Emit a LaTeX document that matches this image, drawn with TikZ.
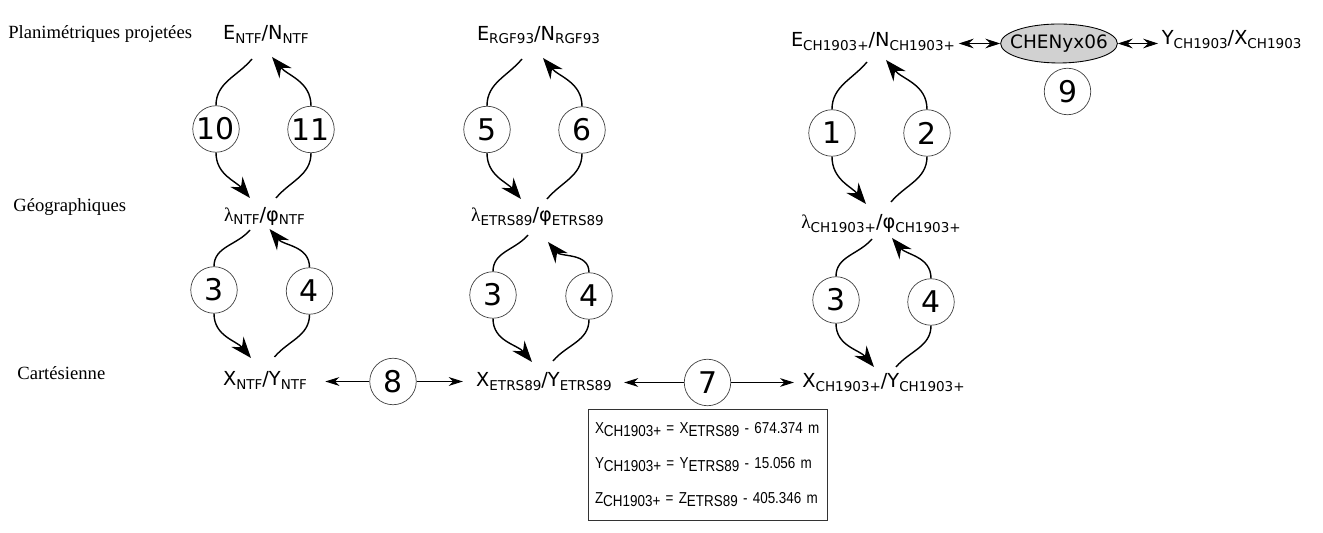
\documentclass[tikz,border=0pt]{standalone}
\usepackage{fontspec}
\setmainfont{DejaVu Sans}
\newfontfamily\sidefont{Liberation Serif}
\newfontfamily\boxfont[FakeStretch=0.85]{Liberation Sans}
\usetikzlibrary{arrows.meta,shapes.geometric}

\newcommand{\sbs}[1]{\raisebox{-1.8pt}{\fontsize{7.7}{8}\selectfont #1}}
\newcommand{\bsb}[1]{\raisebox{-1.6pt}{#1}}
\newcommand{\lam}{{\sidefont λ}}

\tikzset{
  sidelab/.style={anchor=base west,inner sep=0pt,
                  font=\sidefont\fontsize{10.6}{12}\selectfont},
  coord/.style={anchor=base,inner sep=2pt,
                font=\fontsize{11}{13}\selectfont},
  stepnum/.style={circle,draw=black!75,line width=0.4pt,
                  minimum size=0.93cm,inner sep=0pt,
                  font=\fontsize{17}{17}\selectfont},
  arcline/.style={line width=0.8pt},
  arctip/.style={line width=0.8pt,
                  -{Stealth[length=12pt,width=9pt,inset=4pt]}},
  link/.style={line width=0.5pt,
               -{Stealth[length=8pt,width=5pt,inset=2.5pt]}},
  dlink/.style={line width=0.5pt,
                {Stealth[length=8.5pt,width=5.5pt,inset=3pt]}-{Stealth[length=8.5pt,width=5.5pt,inset=3pt]}}
}

\begin{document}
\begin{tikzpicture}

\useasboundingbox (0,0) rectangle (26.46,10.66);

% row captions
\node[sidelab] at (0.16,9.88) (planLab) {Planimétriques projetées};
\node[sidelab] at (0.26,6.42) (geoLab) {Géographiques};
\node[sidelab] at (0.34,3.06) (cartLab) {Cartésienne};

% NTF
\node[coord] at (5.32,9.86) (eNTF) {E\sbs{NTF}/N\sbs{NTF}};
\node[coord] at (5.29,6.23) (lNTF) {\lam\sbs{NTF}/φ\sbs{NTF}};
\node[coord] at (5.30,2.94) (xNTF) {X\sbs{NTF}/Y\sbs{NTF}};
\node[stepnum] at (4.32,8.08) (c10) {10};
\node[stepnum] at (6.22,8.07) (c11) {11};
\node[stepnum] at (4.28,4.86) (c3a) {3};
\node[stepnum] at (6.19,4.84) (c4a) {4};

\draw[arcline] ([shift={(-0.28,-0.38)}]eNTF.base)
     to[out=-130,in=90] (c10.north);
\draw[arctip] (c10.south)
     to[out=-90,in=130] ([shift={(-0.29,0.47)}]lNTF.base);
\draw[arcline] ([shift={(0.23,0.47)}]lNTF.base)
     to[out=50,in=-90] (c11.south);
\draw[arctip] (c11.north)
     to[out=90,in=-50] ([shift={(0.12,-0.34)}]eNTF.base);

\draw[arcline] ([shift={(-0.29,-0.17)}]lNTF.base)
     to[out=-130,in=90] (c3a.north);
\draw[arctip] (c3a.south)
     to[out=-90,in=130] ([shift={(-0.28,0.56)}]xNTF.base);
\draw[arcline] ([shift={(0.19,0.58)}]xNTF.base)
     to[out=50,in=-90] (c4a.south);
\draw[arctip] (c4a.north)
     to[out=90,in=-50] ([shift={(0.10,-0.15)}]lNTF.base);

% RGF93 / ETRS89
\node[coord] at (10.77,9.85) (eRGF) {E\sbs{RGF93}/N\sbs{RGF93}};
\node[coord] at (10.75,6.22) (lETRS) {\lam\sbs{ETRS89}/φ\sbs{ETRS89}};
\node[coord] at (10.88,2.92) (xETRS) {X\sbs{ETRS89}/Y\sbs{ETRS89}};
\node[stepnum] at (9.74,8.07) (c5) {5};
\node[stepnum] at (11.64,8.06) (c6) {6};
\node[stepnum] at (9.86,4.76) (c3b) {3};
\node[stepnum] at (11.78,4.74) (c4b) {4};

\draw[arcline] ([shift={(-0.33,-0.37)}]eRGF.base)
     to[out=-130,in=90] (c5.north);
\draw[arctip] (c5.south)
     to[out=-90,in=130] ([shift={(-0.33,0.46)}]lETRS.base);
\draw[arcline] ([shift={(0.19,0.46)}]lETRS.base)
     to[out=50,in=-90] (c6.south);
\draw[arctip] (c6.north)
     to[out=90,in=-50] ([shift={(0.09,-0.35)}]eRGF.base);

\draw[arcline] ([shift={(-0.19,-0.26)}]lETRS.base)
     to[out=-130,in=90] (c3b.north);
\draw[arctip] (c3b.south)
     to[out=-90,in=130] ([shift={(-0.24,0.50)}]xETRS.base);
\draw[arcline] ([shift={(0.18,0.52)}]xETRS.base)
     to[out=50,in=-90] (c4b.south);
\draw[arctip] (c4b.north)
     to[out=90,in=-50] ([shift={(0.21,-0.40)}]lETRS.base);

% CH1903+
\node[coord] at (17.46,9.72) (eCH) {E\sbs{CH1903+}/N\sbs{CH1903+}};
\node[coord] at (17.62,6.08) (lCH) {\lam\sbs{CH1903+}/φ\sbs{CH1903+}};
\node[coord] at (17.67,2.90) (xCH) {X\sbs{CH1903+}/Y\sbs{CH1903+}};
\node[stepnum] at (16.64,8.00) (c1) {1};
\node[stepnum] at (18.54,8.00) (c2) {2};
\node[stepnum] at (16.72,4.66) (c3c) {3};
\node[stepnum] at (18.62,4.62) (c4c) {4};

\draw[arcline] ([shift={(-0.12,-0.30)}]eCH.base)
     to[out=-130,in=90] (c1.north);
\draw[arctip] (c1.south)
     to[out=-90,in=130] ([shift={(-0.30,0.50)}]lCH.base);
\draw[arcline] ([shift={(0.20,0.54)}]lCH.base)
     to[out=50,in=-90] (c2.south);
\draw[arctip] (c2.north)
     to[out=90,in=-50] ([shift={(0.26,-0.26)}]eCH.base);

\draw[arcline] ([shift={(-0.18,-0.20)}]lCH.base)
     to[out=-130,in=90] (c3c.north);
\draw[arctip] (c3c.south)
     to[out=-90,in=130] ([shift={(-0.19,0.42)}]xCH.base);
\draw[arcline] ([shift={(0.25,0.42)}]xCH.base)
     to[out=50,in=-90] (c4c.south);
\draw[arctip] (c4c.north)
     to[out=90,in=-50] ([shift={(0.22,-0.18)}]lCH.base);

% CHENyx06
\node[ellipse,draw,fill=black!18,line width=0.5pt,
      minimum height=0.78cm,inner xsep=-0.15cm,inner ysep=0pt,
      font=\fontsize{10.5}{12}\selectfont]
     at (21.18,9.79) (chenyx) {CHENyx06};
\node[stepnum] at (21.35,8.83) (c9) {9};
\node[coord,anchor=base west] at (23.16,9.76) (yCH)
     {Y\sbs{CH1903}/X\sbs{CH1903}};

\draw[dlink] (eCH.east |- chenyx.west) -- (chenyx.west);
\draw[dlink] (chenyx.east) -- (chenyx.east -| yCH.west);

% datum shifts
\node[stepnum] at (7.86,3.03) (c8) {8};
\node[stepnum] at (14.15,3.01) (c7) {7};
\draw[link,shorten >=0.29cm] (c8.west) -- (c8.west -| xNTF.east);
\draw[link,shorten >=0.19cm] (c8.east) -- (c8.east -| xETRS.west);
\draw[link,shorten >=0.17cm] (c7.west) -- (c7.west -| xETRS.east);
\draw[link,shorten >=0.09cm] (c7.east) -- (c7.east -| xCH.west);

\node[draw=black!80,line width=0.4pt,minimum width=4.78cm,
      minimum height=2.22cm,text width=4.5cm,inner xsep=0.14cm,
      align=left,font=\boxfont\fontsize{9}{20}\selectfont]
     at (14.15,1.37) (shiftBox)
     {X\bsb{CH1903+} = X\bsb{ETRS89} - 674.374 m\\
      Y\bsb{CH1903+} = Y\bsb{ETRS89} - 15.056 m\\
      Z\bsb{CH1903+} = Z\bsb{ETRS89} - 405.346 m};

\end{tikzpicture}
\end{document}
